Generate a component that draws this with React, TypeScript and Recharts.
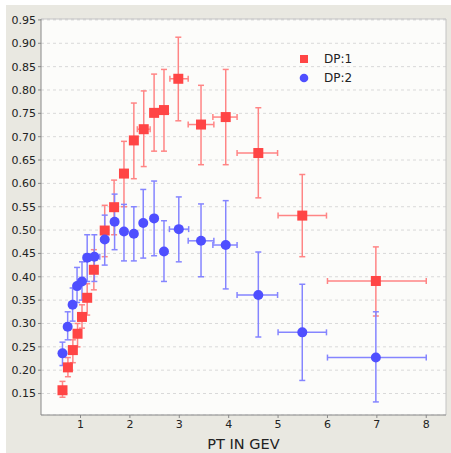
import {
  ScatterChart,
  Scatter,
  XAxis,
  YAxis,
  CartesianGrid,
  ErrorBar,
  Legend,
  ReferenceLine,
  Label,
} from "recharts";

// DP:1 (red squares)
const ptDp1 = [0.635, 0.745, 0.845, 0.94, 1.03, 1.135, 1.27, 1.49, 1.68, 1.88, 2.08, 2.28, 2.49, 2.69, 2.98, 3.44, 3.94, 4.6, 5.49, 6.98];
const effDp1 = [0.157, 0.206, 0.243, 0.278, 0.314, 0.355, 0.415, 0.499, 0.549, 0.621, 0.692, 0.716, 0.751, 0.757, 0.824, 0.726, 0.742, 0.665, 0.531, 0.391];
const loDp1 = [0.142, 0.186, 0.216, 0.25, 0.29, 0.318, 0.372, 0.443, 0.49, 0.55, 0.61, 0.636, 0.669, 0.669, 0.734, 0.64, 0.64, 0.569, 0.443, 0.316];
const hiDp1 = [0.176, 0.227, 0.265, 0.3, 0.34, 0.385, 0.458, 0.553, 0.607, 0.69, 0.772, 0.798, 0.834, 0.844, 0.913, 0.81, 0.844, 0.762, 0.619, 0.464];
const xMinusDp1 = [0.04, 0.04, 0.04, 0.04, 0.04, 0.04, 0.07, 0.06, 0.06, 0.06, 0.06, 0.13, 0.06, 0.06, 0.17, 0.26, 0.26, 0.43, 0.49, 0.98];
const xPlusDp1 = [0.04, 0.04, 0.04, 0.04, 0.04, 0.04, 0.07, 0.06, 0.06, 0.06, 0.06, 0.13, 0.06, 0.06, 0.2, 0.26, 0.23, 0.39, 0.49, 1.02];

// DP:2 (blue circles)
const ptDp2 = [0.635, 0.74, 0.84, 0.93, 1.03, 1.135, 1.28, 1.49, 1.69, 1.88, 2.08, 2.27, 2.49, 2.69, 2.99, 3.44, 3.94, 4.6, 5.49, 6.98];
const effDp2 = [0.236, 0.293, 0.34, 0.38, 0.39, 0.441, 0.443, 0.48, 0.518, 0.497, 0.492, 0.515, 0.525, 0.454, 0.502, 0.477, 0.468, 0.361, 0.281, 0.227];
const loDp2 = [0.21, 0.265, 0.305, 0.345, 0.35, 0.39, 0.39, 0.425, 0.458, 0.434, 0.434, 0.44, 0.445, 0.39, 0.432, 0.4, 0.374, 0.271, 0.178, 0.132];
const hiDp2 = [0.26, 0.325, 0.376, 0.42, 0.432, 0.49, 0.49, 0.532, 0.577, 0.555, 0.55, 0.587, 0.605, 0.52, 0.571, 0.556, 0.563, 0.453, 0.384, 0.325];
const xMinusDp2 = [0.04, 0.04, 0.04, 0.04, 0.04, 0.04, 0.1, 0.06, 0.06, 0.06, 0.06, 0.06, 0.06, 0.06, 0.19, 0.26, 0.26, 0.43, 0.49, 0.98];
const xPlusDp2 = [0.04, 0.04, 0.04, 0.04, 0.04, 0.04, 0.11, 0.06, 0.06, 0.06, 0.06, 0.06, 0.06, 0.06, 0.2, 0.26, 0.23, 0.39, 0.49, 1.02];

const xTicks = [1, 2, 3, 4, 5, 6, 7, 8];
const yTicks = [0.15, 0.2, 0.25, 0.3, 0.35, 0.4, 0.45, 0.5, 0.55, 0.6, 0.65, 0.7, 0.75, 0.8, 0.85, 0.9, 0.95];
const xDomain: [number, number] = [0.2, 8.4];
const yDomain: [number, number] = [0.104, 0.952];

const RED = "#ff4545";
const RED_ERR = "#ff8585";
const BLUE = "#4f4fff";
const BLUE_ERR = "#8585ff";
const FONT = "DejaVu Sans, sans-serif";

function build(pt: number[], eff: number[], lo: number[], hi: number[], xm: number[], xp: number[]) {
  return pt.map((x, i) => ({
    x,
    y: eff[i],
    ey: [eff[i] - lo[i], hi[i] - eff[i]],
    ex: [xm[i], xp[i]],
  }));
}

const dp1 = build(ptDp1, effDp1, loDp1, hiDp1, xMinusDp1, xPlusDp1);
const dp2 = build(ptDp2, effDp2, loDp2, hiDp2, xMinusDp2, xPlusDp2);

const SquareDot = (props: any) => (
  <rect x={props.cx - 5} y={props.cy - 5} width={10} height={10} fill={RED} />
);
const RoundDot = (props: any) => <circle cx={props.cx} cy={props.cy} r={5} fill={BLUE} />;

function renderLegend(props: any) {
  const items = props.payload || [];
  return (
    <div style={{ fontFamily: FONT, fontSize: 12, color: "#222" }}>
      {items.map((entry: any) => (
        <div key={entry.value} style={{ display: "flex", alignItems: "center", height: 19.6 }}>
          <svg width={12} height={12} style={{ marginRight: 14 }}>
            {entry.value === "DP:1" ? (
              <rect x={2} y={2} width={8} height={8} fill={RED} />
            ) : (
              <circle cx={6} cy={6} r={4.3} fill={BLUE} />
            )}
          </svg>
          <span>{entry.value}</span>
        </div>
      ))}
    </div>
  );
}

export default function App() {
  return (
    <div style={{ position: "absolute", left: 0, top: 0, width: 451, height: 453, background: "#ffffff" }}>
      <div style={{ position: "absolute", left: 6, top: 5, right: 0, bottom: 0, background: "#e9e8e1" }} />
      <div style={{ position: "absolute", left: 0, top: 0 }}>
        <ScatterChart width={451} height={453} margin={{ top: 19, right: 5, bottom: 0, left: 6 }}>
          <CartesianGrid vertical={false} stroke="#d9d9d9" strokeDasharray="3 3" fill="#fcfcfa" />
          <XAxis
            type="number"
            dataKey="x"
            domain={xDomain}
            ticks={xTicks}
            allowDataOverflow
            height={38}
            stroke="#888"
            tickSize={3}
            tick={{ fontSize: 11, fill: "#222", fontFamily: FONT }}
          >
            <Label value="PT IN GEV" position="insideBottom" offset={4} style={{ fontSize: 14.5, fill: "#222", fontFamily: FONT }} />
          </XAxis>
          <YAxis
            type="number"
            dataKey="y"
            domain={yDomain}
            ticks={yTicks}
            allowDataOverflow
            width={35}
            stroke="#888"
            tickSize={3}
            tickFormatter={(v: number) => v.toFixed(2)}
            tick={{ fontSize: 11, fill: "#222", fontFamily: FONT }}
          />
          <ReferenceLine y={yDomain[1]} stroke="#c4c4c4" />
          <ReferenceLine x={xDomain[1]} stroke="#c4c4c4" />
          <Legend
            layout="vertical"
            align="center"
            verticalAlign="middle"
            content={renderLegend}
            wrapperStyle={{ left: 298, top: 49, width: 90, height: 40 }}
          />
          <Scatter name="DP:1" data={dp1} fill={RED} shape={SquareDot} isAnimationActive={false}>
            <ErrorBar dataKey="ey" direction="y" width={3} stroke={RED_ERR} strokeWidth={1.5} isAnimationActive={false} />
            <ErrorBar dataKey="ex" direction="x" width={3} stroke={RED_ERR} strokeWidth={1.5} isAnimationActive={false} />
          </Scatter>
          <Scatter name="DP:2" data={dp2} fill={BLUE} shape={RoundDot} isAnimationActive={false}>
            <ErrorBar dataKey="ey" direction="y" width={3} stroke={BLUE_ERR} strokeWidth={1.5} isAnimationActive={false} />
            <ErrorBar dataKey="ex" direction="x" width={3} stroke={BLUE_ERR} strokeWidth={1.5} isAnimationActive={false} />
          </Scatter>
        </ScatterChart>
      </div>
    </div>
  );
}
